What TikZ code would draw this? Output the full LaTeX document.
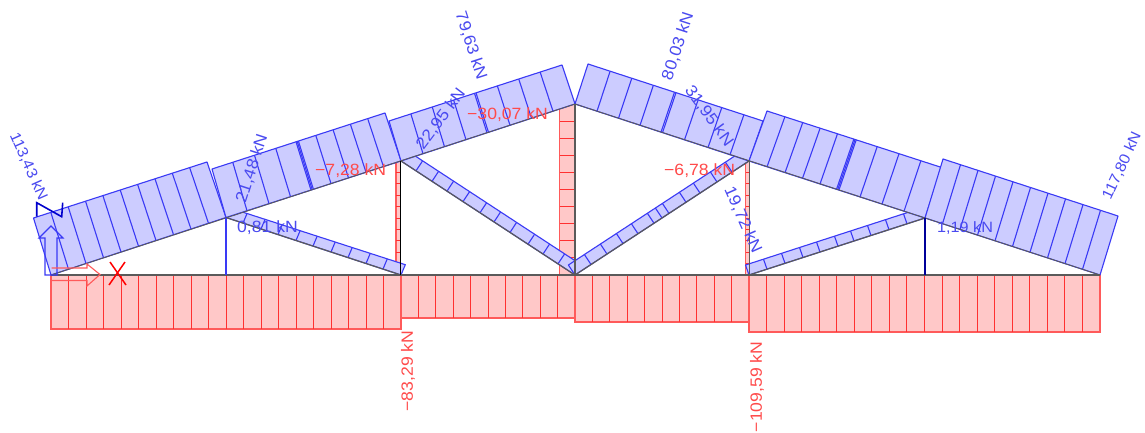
\documentclass[tikz,border=0pt]{standalone}
\usepackage{fontspec}
\setmainfont[FakeStretch=1.08]{Liberation Sans}
\definecolor{bandblue}{HTML}{CCCCFF}
\definecolor{edgeblue}{HTML}{3A3AF5}
\definecolor{bandred}{HTML}{FFC8C8}
\definecolor{edgered}{HTML}{FF5A5A}
\definecolor{tickred}{HTML}{FF3030}
\definecolor{lblblue}{HTML}{4A4AF0}
\definecolor{lblred}{HTML}{FF4A4A}
\definecolor{chord}{HTML}{5A5A5A}
\tikzset{
  x=1pt,y=-1pt,
  blueband/.style={fill=bandblue,draw=edgeblue,line width=1.1pt,line join=round},
  bluetick/.style={draw=edgeblue,line width=1.1pt},
  redband/.style={fill=bandred,draw=edgered,line width=1.2pt},
  redtick/.style={draw=tickred,line width=1pt},
  member/.style={draw=chord,line width=1.2pt},
  bluelbl/.style={text=lblblue,inner sep=0pt,font=\fontsize{16.3}{16.3}\selectfont},
  redlbl/.style={text=lblred,inner sep=0pt,font=\fontsize{16.3}{16.3}\selectfont},
  narrowlbl/.style={font=\fontsize{15}{15}\selectfont},
}
% x1 y1 x2 y2 dx1 dy1 dx2 dy2 {tick x positions on the member}
\newcommand{\bandA}[9]{%
  \path[blueband] (#1,#2) -- (#1+#5,#2+#6) -- (#3+#7,#4+#8) -- (#3,#4) -- cycle;
  \foreach \tx in {#9}{%
    \pgfmathsetmacro{\tt}{(\tx-#1)/(#3-#1)}%
    \pgfmathsetmacro{\ty}{#2+\tt*(#4-#2)}%
    \pgfmathsetmacro{\ox}{#5+\tt*(#7-#5)}%
    \pgfmathsetmacro{\oy}{#6+\tt*(#8-#6)}%
    \path[bluetick] (\tx,\ty) -- (\tx+\ox,\ty+\oy);
  }%
}
% x1 x2 y1 y2 n : band below a chord, n divisions
\newcommand{\bandB}[5]{%
  \path[redband] (#1,#3) rectangle (#2,#4);
  \foreach \k in {1,...,\numexpr#5-1\relax}{%
    \pgfmathsetmacro{\tx}{#1+\k*(#2-#1)/#5}%
    \path[redtick] (\tx,#3) -- (\tx,#4);
  }%
}
% xl xr ytop ybot n : band beside a vertical, n divisions
\newcommand{\bandC}[5]{%
  \path[redband] (#1,#3) rectangle (#2,#4);
  \foreach \k in {1,...,\numexpr#5-1\relax}{%
    \pgfmathsetmacro{\ty}{#3+\k*(#4-#3)/#5}%
    \path[redtick] (#1,\ty) -- (#2,\ty);
  }%
}
\begin{document}
\begin{tikzpicture}
\useasboundingbox (0,0) rectangle (1145,433);
\fill[white] (0,0) rectangle (1145,433);

% bottom chord force bands
\bandB{51}{401}{275}{329}{20}
\bandB{401}{575}{275}{318}{10}
\bandB{575}{749}{275}{322}{10}
\bandB{749}{1100}{275}{332}{20}

% vertical red bands
\bandC{396}{400.5}{161}{275}{10}
\bandC{559.5}{575}{104}{275}{10}
\bandC{745.5}{749.3}{161}{275}{10}

% diagonal bands
\bandA{226}{217.5}{401}{275}{4}{-9.5}{4.3}{-10.3}{243,261,278,296,313,331,348,366,383}
\bandA{401}{161}{575}{275}{6.6}{-10}{6.6}{-10}{416,432,447,463,480,494,510,528,543,558}
\bandA{575}{275}{749}{161}{-6.6}{-10}{-6.6}{-10}{591,607,623,638,654,662,669,686,700,717,732}
\bandA{749}{275}{925}{218}{-3.5}{-10}{-3.5}{-10}{767,785,803,820,838,854,871,889,907}

% top chord bands
\bandA{51}{275}{226}{217.5}{-17.5}{-57}{-19}{-55.5}{68.5,86,103.5,121,138.5,156,173.5,191,208.5}
\bandA{226}{217.5}{401}{161}{-14}{-48.5}{-16}{-48}{247,269,290.5,311,312.2,313.4,331,348.5,366,383.5}
\bandA{401}{161}{575}{104}{-12}{-40}{-13}{-39}{423,444.5,466,487,488.5,510,531.5,553}
\bandA{575}{104}{749}{161}{13}{-40}{14}{-40}{597,618.5,640,661,662.5,684.5,708,730}
\bandA{749}{161}{925}{218}{18}{-50}{16.7}{-50.5}{767,785,802.5,820,836.5,837.7,838.9,860,882,904}
\bandA{925}{218}{1100}{275}{18}{-59}{18}{-59}{942.5,960,977.5,995,1012.5,1030,1047.5,1065,1082.5}

% members
\path[member] (51,275) -- (1100,275);
\path[member,line width=.9pt] (51,275) -- (575,104) -- (1100,275);
\path[member] (226,217.5) -- (401,275);
\path[member] (401,161) -- (575,275) -- (749,161);
\path[member] (749,275) -- (925,218);
\path[member,draw=black] (400.5,161) -- (400.5,275);
\path[member] (575,104) -- (575,275);
\path[member] (749.3,161) -- (749.3,275);
\path[draw=edgeblue,line width=1.1pt] (226,217.5) -- (226,275);
\path[draw=blue!60!black,line width=1.4pt] (925,218) -- (925,275);

% support symbols
\path[draw=edgeblue,line width=1.1pt,line join=miter] (45,275) -- (45,238) -- (39,238) -- (51,226) -- (63,238) -- (57,238) -- (57,275) -- cycle;
\path[draw=edgered,line width=1.1pt] (51.5,268) -- (87,268) -- (87,264) -- (100,274.5) -- (87,286) -- (87,280.5) -- (51.5,280.5);
\path[draw=blue!80!black,line width=1.6pt] (36.7,216.7) -- (36.7,202.7) -- (61.7,216.7) -- (62.7,202.7);
\path[draw=red,line width=1.5pt] (110,262) -- (126,285);
\path[draw=red,line width=1.5pt] (125,262) -- (109,285);

% labels
\node[bluelbl,narrowlbl,rotate=-66] (l1) at (28.5,166.5) {113,43 kN};
\node[bluelbl,rotate=72] (l2) at (252,168.5) {21,48 kN};
\node[bluelbl,anchor=west] (l3) at (237,228) {0,81 kN};
\node[bluelbl,rotate=53] (l4) at (441,119) {22,95 kN};
\node[bluelbl,rotate=-72] (l5) at (471,46) {79,63 kN};
\node[bluelbl,rotate=72] (l6) at (678,46) {80,03 kN};
\node[bluelbl,rotate=-54] (l7) at (709,116) {31,95 kN};
\node[bluelbl,rotate=-66] (l8) at (743,220) {19,72 kN};
\node[bluelbl,narrowlbl,anchor=west] (l9) at (937,228) {1,19 kN};
\node[bluelbl,narrowlbl,rotate=65] (l10) at (1122,166) {117,80 kN};
\node[redlbl,anchor=west] (l11) at (467,115) {−30,07 kN};
\node[redlbl,anchor=west] (l12) at (315,171) {−7,28 kN};
\node[redlbl,anchor=west] (l13) at (664,171) {−6,78 kN};
\node[redlbl,rotate=90] (l14) at (408,371) {−83,29 kN};
\node[redlbl,rotate=90] (l15) at (757,387) {−109,59 kN};
\end{tikzpicture}
\end{document}
